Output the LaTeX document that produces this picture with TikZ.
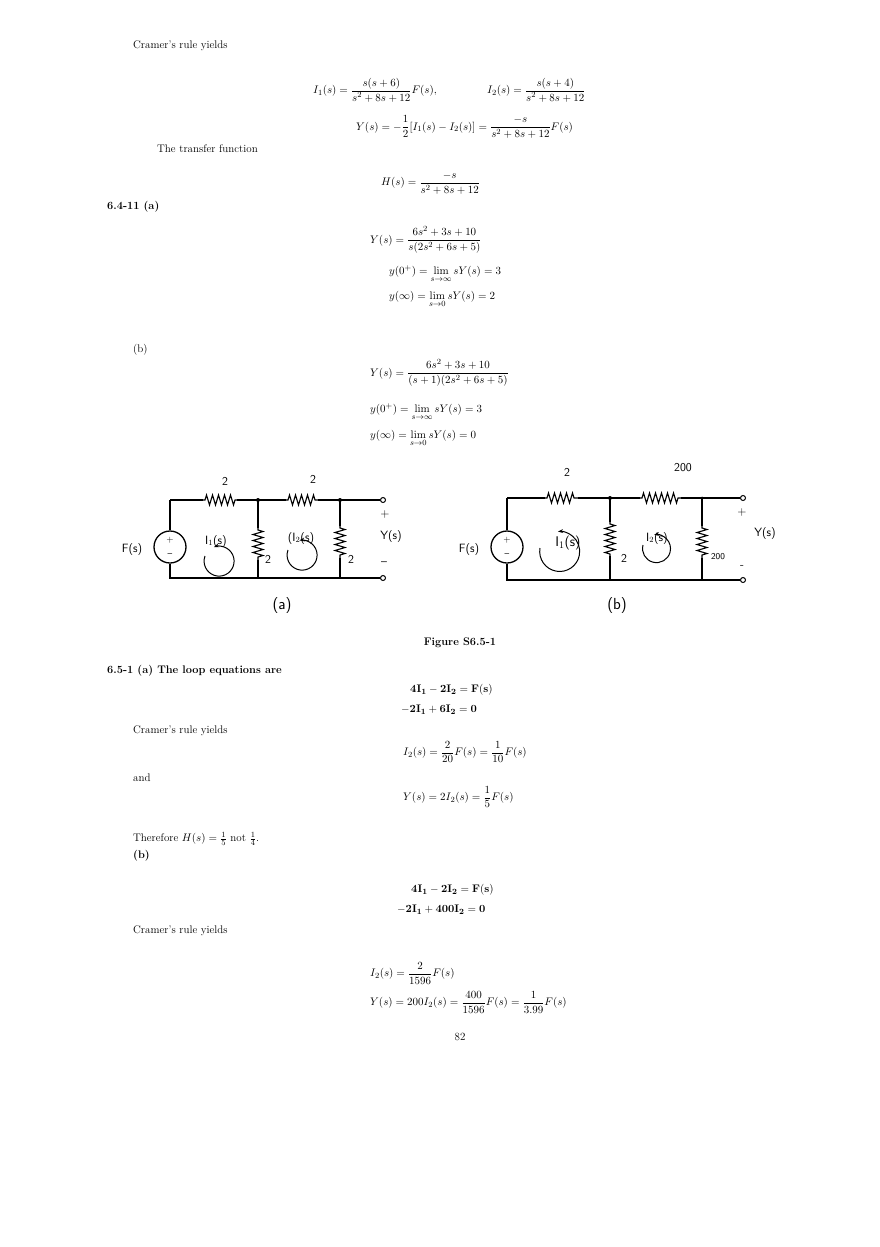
\documentclass[tikz,border=0pt]{standalone}
\usepackage{amsmath}
\usetikzlibrary{decorations.pathmorphing,arrows.meta}
\begin{document}
\begin{tikzpicture}[x=1pt,y=-1pt,
  txt/.style={anchor=west,inner sep=0pt,font=\fontsize{11}{13}\selectfont},
  eq/.style={anchor=west,inner sep=0pt,font=\fontsize{11}{13}\selectfont},
  bld/.style={anchor=west,inner sep=0pt,font=\fontsize{11}{13}\selectfont\bfseries},
  wire/.style={line width=1.3pt},
  res/.style={line width=1.1pt,decorate,decoration={zigzag,amplitude=5pt,segment length=6pt,pre length=2pt,post length=2pt}},
  hand/.style={inner sep=0pt,font=\sffamily\fontsize{12}{14}\selectfont},
  term/.style={circle,draw,line width=1pt,inner sep=0pt,minimum size=5pt,fill=white},
  loopar/.style={line width=1pt,-{Stealth[length=5pt]}}]
\useasboundingbox (0,0) rectangle (880,1247);
\fill[white] (0,0) rectangle (880,1247);
% ---- top text
\node[txt] (t1) at (133,46) {Cramer's rule yields};
\node[eq] (e1) at (313,90) {$I_1(s)=\dfrac{s(s+6)}{s^2+8s+12}F(s),$};
\node[eq] (e2) at (487,90) {$I_2(s)=\dfrac{s(s+4)}{s^2+8s+12}$};
\node[eq] (e3) at (356,127) {$Y(s)=-\dfrac{1}{2}[I_1(s)-I_2(s)]=\dfrac{-s}{s^2+8s+12}F(s)$};
\node[txt] (t2) at (157,149) {The transfer function};
\node[eq] (e4) at (381,183) {$H(s)=\dfrac{-s}{s^2+8s+12}$};
\node[bld] (t3) at (107,207) {6.4-11 (a)};
\node[eq] (e5) at (370,240) {$Y(s)=\dfrac{6s^2+3s+10}{s(2s^2+6s+5)}$};
\node[eq] (e6) at (389,274) {$y(0^+)=\lim\limits_{s\to\infty}sY(s)=3$};
\node[eq] (e7) at (389,299) {$y(\infty)=\lim\limits_{s\to0}sY(s)=2$};
\node[txt] (t4) at (133,350) {(b)};
\node[eq] (e8) at (370,373) {$Y(s)=\dfrac{6s^2+3s+10}{(s+1)(2s^2+6s+5)}$};
\node[eq] (e9) at (370,412) {$y(0^+)=\lim\limits_{s\to\infty}sY(s)=3$};
\node[eq] (e10) at (370,438) {$y(\infty)=\lim\limits_{s\to0}sY(s)=0$};
% ---- circuit (a)
\coordinate (a1) at (170,500); \coordinate (a2) at (258,500); \coordinate (a3) at (340,500);
\coordinate (b1) at (170,578); \coordinate (b2) at (258,578); \coordinate (b3) at (340,578);
\node[circle,draw,line width=1.3pt,minimum size=32pt,inner sep=0pt] (sa) at (170,547) {};
\node[hand,font=\sffamily\fontsize{9}{9}\selectfont] at (170,540) {+};
\node[hand,font=\sffamily\fontsize{9}{9}\selectfont] at (170,555) {--};
\node[term] (ta) at (383,500) {};
\node[term] (tb) at (383,578) {};
\draw[wire] (a1) -- (203,500); \draw[res] (203,500) -- (237,500); \draw[wire] (237,500) -- (a2) -- (286,500);
\draw[res] (286,500) -- (318,500); \draw[wire] (318,500) -- (a3) -- (ta);
\draw[wire] (a1) -- (sa.north); \draw[wire] (sa.south) -- (b1) -- (b2) -- (b3) -- (tb);
\draw[wire] (a2) -- (258,528); \draw[res] (258,528) -- (258,560); \draw[wire] (258,560) -- (b2);
\draw[wire] (a3) -- (340,526); \draw[res] (340,526) -- (340,558); \draw[wire] (340,558) -- (b3);
\fill (a2) circle (2pt); \fill (a3) circle (2pt);
\node[hand] (la1) at (225,481) {2}; \node[hand] (la2) at (313,479) {2};
\node[hand] (lfa) at (132,549) {F(s)};
\node[hand] (lia) at (216,541) {I$_1$(s)}; \draw[loopar] (205,556) arc (200:-110:15);
\node[hand] (lib) at (301,538) {(I$_2$(s)}; \draw[loopar] (288,550) arc (200:-100:15);
\node[hand] (lra) at (268,559) {2}; \node[hand] (lrb) at (351,559) {2};
\node[hand] (lya) at (391,536) {Y(s)};
\node[hand] (lpa) at (385,515) {+}; \node[hand] (lma) at (384,564) {--};
\node[hand,font=\sffamily\fontsize{16}{16}\selectfont] (capa) at (282,606) {(a)};
% ---- circuit (b)
\coordinate (c1) at (507,498); \coordinate (c2) at (610,498); \coordinate (c3) at (702,498);
\coordinate (d1) at (507,580); \coordinate (d2) at (610,580); \coordinate (d3) at (702,580);
\node[circle,draw,line width=1.3pt,minimum size=32pt,inner sep=0pt] (sb) at (507,547) {};
\node[hand,font=\sffamily\fontsize{9}{9}\selectfont] at (507,540) {+};
\node[hand,font=\sffamily\fontsize{9}{9}\selectfont] at (507,555) {--};
\node[term] (tc) at (743,498) {};
\node[term] (td) at (743,580) {};
\draw[wire] (c1) -- (545,498); \draw[res] (545,498) -- (578,498); \draw[wire] (578,498) -- (c2) -- (640,498);
\draw[res] (640,498) -- (681,498); \draw[wire] (681,498) -- (c3) -- (tc);
\draw[wire] (c1) -- (sb.north); \draw[wire] (sb.south) -- (d1) -- (d2) -- (d3) -- (td);
\draw[wire] (c2) -- (610,522); \draw[res] (610,522) -- (610,556); \draw[wire] (610,556) -- (d2);
\draw[wire] (c3) -- (702,526); \draw[res] (702,526) -- (702,558); \draw[wire] (702,558) -- (d3);
\fill (c2) circle (2pt); \fill (c3) circle (1.5pt);
\node[hand] (lc1) at (567,472) {2}; \node[hand] (lc2) at (683,468) {200};
\node[hand] (lfb) at (469,549) {F(s)};
\node[hand,font=\sffamily\fontsize{14}{14}\selectfont] (lic) at (568,543) {I$_1$(s)}; \draw[loopar] (540,548) arc (190:-95:20);
\node[hand] (lid) at (657,538) {I$_2$(s)}; \draw[loopar] (643,545) arc (195:-100:14);
\node[hand] (lrc) at (624,558) {2}; \node[hand,font=\sffamily\fontsize{9}{9}\selectfont] (lrd) at (718,557) {200};
\node[hand] (lyb) at (765,533) {Y(s)};
\node[hand] (lpb) at (742,512) {+}; \node[hand] (lmb) at (742,567) {-};
\node[hand,font=\sffamily\fontsize{16}{16}\selectfont] (capb) at (617,606) {(b)};
% ---- lower text
\node[bld,anchor=center] (fig) at (460,643) {Figure S6.5-1};
\node[bld] (t5) at (107,671) {6.5-1 (a) The loop equations are};
\node[eq] (e11) at (410,690) {$\mathbf{4I_1-2I_2=F(s)}$};
\node[eq] (e12) at (401,710) {$\mathbf{-2I_1+6I_2=0}$};
\node[txt] (t6) at (133,731) {Cramer's rule yields};
\node[eq] (e13) at (403,752) {$I_2(s)=\dfrac{2}{20}F(s)=\dfrac{1}{10}F(s)$};
\node[txt] (t7) at (133,778) {and};
\node[eq] (e14) at (403,797) {$Y(s)=2I_2(s)=\dfrac{1}{5}F(s)$};
\node[txt] (t8) at (133,839) {Therefore $H(s)=\frac{1}{5}$ not $\frac{1}{4}$.};
\node[bld] (t9) at (133,856) {(b)};
\node[eq] (e15) at (411,890) {$\mathbf{4I_1-2I_2=F(s)}$};
\node[eq] (e16) at (397,910) {$\mathbf{-2I_1+400I_2=0}$};
\node[txt] (t10) at (133,931) {Cramer's rule yields};
\node[eq] (e17) at (370,973) {$I_2(s)=\dfrac{2}{1596}F(s)$};
\node[eq] (e18) at (370,1002) {$Y(s)=200I_2(s)=\dfrac{400}{1596}F(s)=\dfrac{1}{3.99}F(s)$};
\node[txt,anchor=center] (pg) at (460,1037) {82};
\end{tikzpicture}
\end{document}
